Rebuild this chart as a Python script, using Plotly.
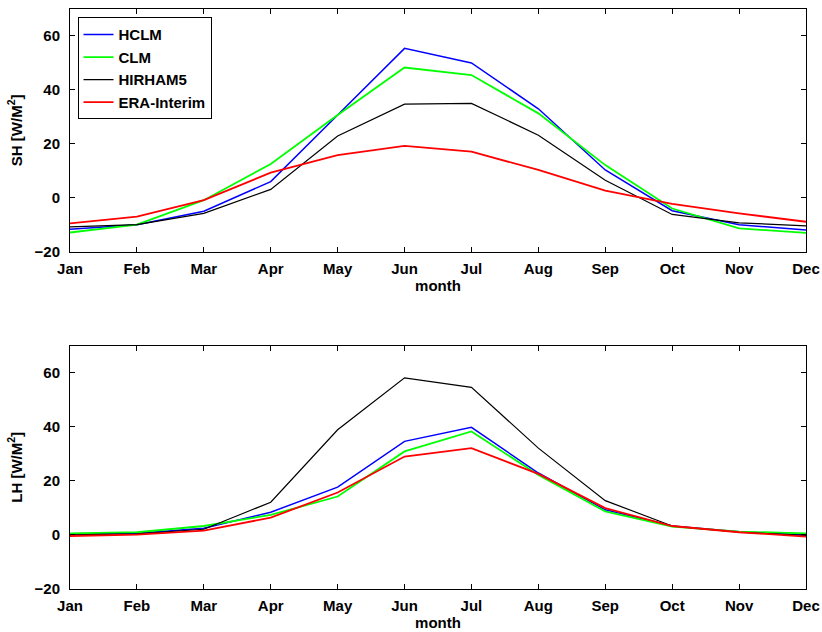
import plotly.graph_objects as go

months = ["Jan", "Feb", "Mar", "Apr", "May", "Jun", "Jul", "Aug", "Sep", "Oct", "Nov", "Dec"]
month_index = list(range(1, 13))

series_names = ["HCLM", "CLM", "HIRHAM5", "ERA-Interim"]
series_colors = ["#0000ff", "#00ff00", "#000000", "#ff0000"]
series_widths = [1.5, 1.8, 1.2, 1.8]

# Sensible heat flux (top panel)
sh_hclm = [-11.7, -10.0, -5.0, 6.0, 30.7, 55.4, 50.0, 33.0, 10.3, -4.8, -10.0, -12.0]
sh_clm = [-12.9, -10.0, -0.9, 12.5, 30.7, 48.3, 45.5, 31.3, 12.1, -4.0, -11.4, -13.0]
sh_hirham = [-10.8, -10.0, -5.8, 3.1, 22.9, 34.7, 35.0, 23.2, 6.5, -6.2, -9.3, -10.4]
sh_era = [-9.5, -7.0, -0.9, 9.3, 15.8, 19.2, 17.1, 10.3, 2.6, -2.3, -5.8, -8.9]

# Latent heat flux (bottom panel)
lh_hclm = [0.4, 0.6, 2.5, 8.4, 17.7, 34.6, 39.8, 22.9, 9.3, 3.3, 1.2, 0.0]
lh_clm = [0.6, 1.0, 3.3, 7.4, 14.2, 30.9, 38.3, 22.2, 8.7, 3.1, 1.2, 0.6]
lh_hirham = [0.0, 0.4, 2.1, 12.1, 38.9, 58.1, 54.6, 32.1, 12.7, 3.3, 1.0, -0.2]
lh_era = [-0.4, 0.1, 1.6, 6.4, 15.7, 29.0, 32.1, 22.6, 9.9, 3.3, 1.0, -0.6]

y_ticks = [-20, 0, 20, 40, 60]

sh_series = [sh_hclm, sh_clm, sh_hirham, sh_era]
lh_series = [lh_hclm, lh_clm, lh_hirham, lh_era]

fig = go.Figure()
for name, color, width, vals in zip(series_names, series_colors, series_widths, sh_series):
    fig.add_trace(go.Scatter(x=month_index, y=vals, mode="lines", name=name,
                             line=dict(color=color, width=width),
                             xaxis="x", yaxis="y", showlegend=True))
for name, color, width, vals in zip(series_names, series_colors, series_widths, lh_series):
    fig.add_trace(go.Scatter(x=month_index, y=vals, mode="lines", name=name,
                             line=dict(color=color, width=width),
                             xaxis="x2", yaxis="y2", showlegend=False))

font_family = "Liberation Sans, Arial, sans-serif"
tickfont = dict(family=font_family, size=15, color="black", weight="bold")
titlefont = dict(family=font_family, size=15, color="black", weight="bold")

common_x = dict(range=[1, 12], tickvals=month_index, ticktext=months,
                ticks="inside", ticklen=5, tickcolor="black", showline=True,
                linecolor="black", linewidth=1, mirror="ticks", showgrid=False,
                zeroline=False, tickfont=tickfont, ticklabelstandoff=3,
                automargin=False)
common_y = dict(range=[-20, 70], tickvals=y_ticks,
                ticks="inside", ticklen=5, tickcolor="black", showline=True,
                linecolor="black", linewidth=1, mirror="ticks", showgrid=False,
                zeroline=False, tickfont=tickfont, ticklabelstandoff=6,
                automargin=False)

fig.update_layout(
    width=822, height=632,
    margin=dict(l=69.5, r=16.3, t=9, b=43),
    paper_bgcolor="white", plot_bgcolor="white",
    font=dict(family=font_family, color="black"),
    xaxis=dict(domain=[0, 1], anchor="y",
               title=dict(text="month", font=titlefont, standoff=3), **common_x),
    yaxis=dict(domain=[0.5816, 1], anchor="x",
               title=dict(text="SH [W/M<sup>2</sup>]", font=titlefont, standoff=8), **common_y),
    xaxis2=dict(domain=[0, 1], anchor="y2",
                title=dict(text="month", font=titlefont, standoff=3), **common_x),
    yaxis2=dict(domain=[0, 0.4195], anchor="x2",
                title=dict(text="LH [W/M<sup>2</sup>]", font=titlefont, standoff=8), **common_y),
    legend=dict(x=0.0102, y=0.9857, xanchor="left", yanchor="top",
                bgcolor="white", bordercolor="black", borderwidth=1,
                font=dict(family=font_family, size=15, color="black", weight="bold"),
                tracegroupgap=0),
    showlegend=True,
)

fig.write_html("out.html",
               config={"displayModeBar": False},
               post_script="document.body.style.margin='0px';document.body.style.overflow='hidden';")
